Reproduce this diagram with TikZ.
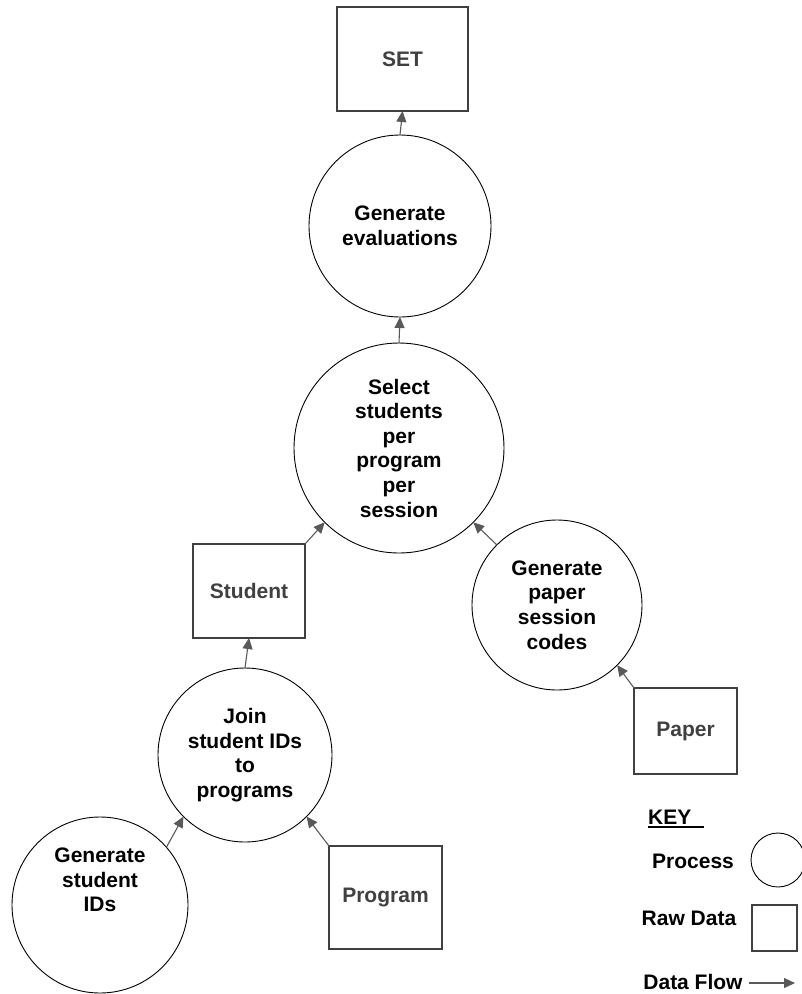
\documentclass[tikz,border=0pt]{standalone}
\usepackage{fontspec}
\setmainfont{Liberation Sans}
\usetikzlibrary{arrows.meta}
\definecolor{boxgray}{HTML}{404040}
\definecolor{flowgray}{HTML}{595959}
\tikzset{
  label font/.style={font=\bfseries\fontsize{21}{24.6}\selectfont},
  proc/.style={circle, draw=black, line width=0.9pt, minimum size=#1, inner sep=0pt, outer sep=0pt, align=center, label font},
  rawdata/.style 2 args={rectangle, draw=boxgray, line width=1.2pt, text=boxgray, minimum width=#1, minimum height=#2, inner sep=0pt, outer sep=0pt, label font},
  keytext/.style={inner sep=0pt, label font},
  flow/.style={draw=flowgray, line width=1.1pt, -{Triangle[length=11pt,width=10pt]}}
}
\begin{document}
\begin{tikzpicture}[x=1pt, y=-1pt]
\useasboundingbox (0,0) rectangle (802,994);
\node [rawdata={131pt}{104pt}] (set) at (402.5,59) {SET};
\node [proc=182pt] (geneval) at (400,226) {Generate\\evaluations};
\node [proc=210pt] (select) at (399,448) {Select\\students\\per\\program\\per\\session};
\node [rawdata={112pt}{94pt}] (student) at (249,591) {Student};
\node [proc=170pt] (genpaper) at (557,605) {Generate\\paper\\session\\codes};
\node [rawdata={103pt}{86pt}] (paper) at (685.5,731) {Paper};
\node [proc=174pt] (join) at (245,755) {Join\\student IDs\\to\\programs};
\node [proc=176pt] (gensid) at (100,905) {};
\node [keytext, align=center] (gensidtext) at (100,880) {Generate\\student\\IDs};
\node [rawdata={113pt}{103pt}] (program) at (385.5,897.5) {Program};

\draw [flow] (geneval.north) -- (set.south);
\draw [flow] (select.north) -- (geneval.south);
\draw [flow] (student.north east) -- (select.225);
\draw [flow] (genpaper.135) -- (select.315);
\draw [flow] (paper.north west) -- (genpaper.315);
\draw [flow] (join.north) -- (student.south);
\draw [flow] (gensid.41) -- (join.225);
\draw [flow] (program.north west) -- (join.315);

% key
\node [keytext, anchor=west] (key) at (648,817) {KEY};
\draw [line width=1.6pt] ([yshift=-2.5pt]key.base west) -- ([yshift=-2.5pt,xshift=12pt]key.base east);
\node [keytext] (keyproc) at (693,861) {Process};
\node [proc=54pt] (keycircle) at (778,860) {};
\node [keytext] (keyraw) at (689,918) {Raw Data};
\node [rawdata={45pt}{46pt}] (keybox) at (774.5,928) {};
\node [keytext] (keyflow) at (693,982) {Data Flow};
\coordinate (flowend) at (795,983);
\draw [flow] ([xshift=6pt]keyflow.east |- flowend) -- (flowend);
\end{tikzpicture}
\end{document}
